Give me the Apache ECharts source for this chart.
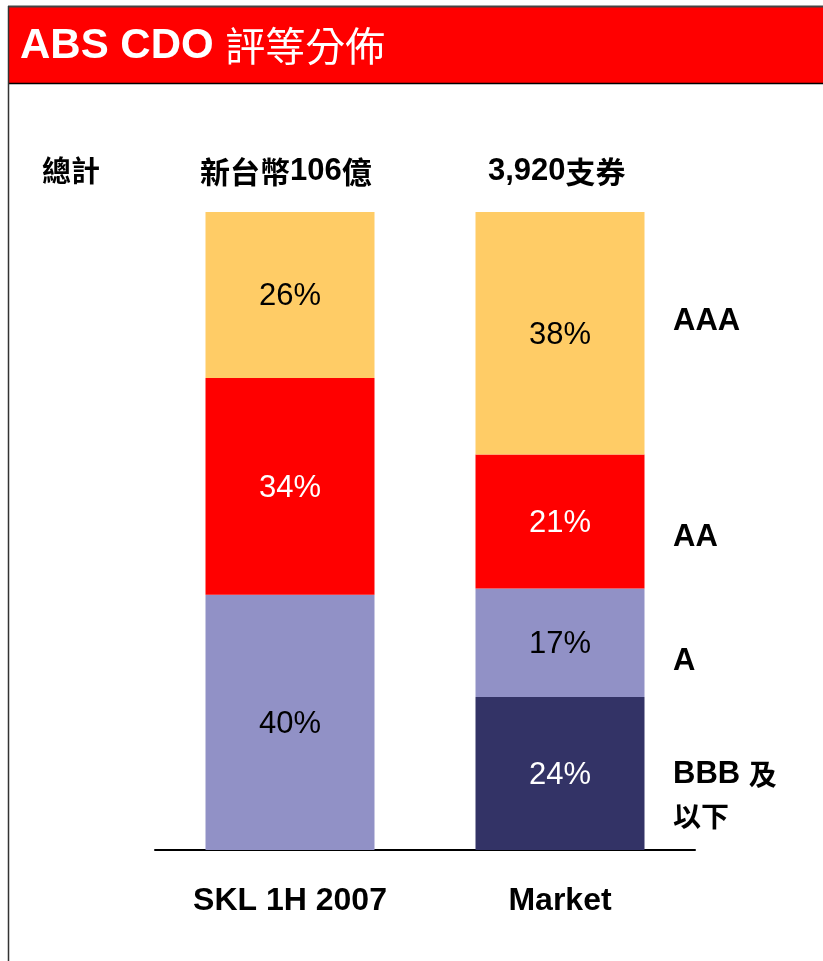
<!DOCTYPE html>
<html>
<head>
<meta charset="utf-8">
<style>
html,body{margin:0;padding:0;background:#fff;}
#chart{width:823px;height:961px;}
</style>
<script src="https://cdn.jsdelivr.net/npm/echarts@6/dist/echarts.min.js"></script>
</head>
<body>
<div id="chart"></div>
<script>
var categories = ['SKL 1H 2007', 'Market'];
var totals = ['新台幣106億', '3,920支券'];
var ratingNames = ['BBB 及\n以下', 'A', 'AA', 'AAA'];
var bbbValues = ['-', 24];
var aValues = [40, 17];
var aaValues = [34, 21];
var aaaValues = [26, 38];

var latin = 'Liberation Sans, Arial, Noto Sans CJK TC, sans-serif';
var chart = echarts.init(document.getElementById('chart'), null, {renderer: 'canvas'});

function mk(name, data, color, labelColor) {
  return {
    name: name, type: 'bar', stack: 'total', data: data,
    barWidth: 169,
    itemStyle: {color: color},
    label: {show: true, position: 'inside', formatter: '{c}%', color: labelColor,
            fontFamily: latin, fontSize: 31, offset: [0, 2]},
    emphasis: {disabled: true}
  };
}

var option = {
  animation: false,
  grid: {left: 155, right: 128, top: 212, bottom: 111, containLabel: false},
  xAxis: {
    type: 'category', data: categories,
    axisLine: {lineStyle: {color: '#000', width: 2}},
    axisTick: {show: false},
    axisLabel: {color: '#000', fontFamily: latin, fontWeight: 'bold', fontSize: 32, margin: 35}
  },
  yAxis: {type: 'value', min: 0, max: 100, show: false},
  series: [
    mk('BBB', bbbValues, '#333366', '#ffffff'),
    mk('A', aValues, '#9191C6', '#000000'),
    mk('AA', aaValues, '#FF0000', '#ffffff'),
    mk('AAA', aaaValues, '#FFCC66', '#000000')
  ],
  graphic: [
    {type: 'rect', shape: {x: 8, y: 6, width: 815, height: 78}, style: {fill: '#FF0000'}, silent: true},
    {type: 'line', shape: {x1: 8, y1: 6.5, x2: 823, y2: 6.5}, style: {stroke: '#444', lineWidth: 2}, silent: true},
    {type: 'line', shape: {x1: 8, y1: 83.5, x2: 823, y2: 83.5}, style: {stroke: '#000', lineWidth: 1.5}, silent: true},
    {type: 'line', shape: {x1: 8.5, y1: 6, x2: 8.5, y2: 961}, style: {stroke: '#333', lineWidth: 1.5}, silent: true},
    {type: 'text', left: 20, top: 25, silent: true,
     style: {text: '{a|ABS CDO }{c|評等分佈}', fill: '#fff',
       rich: {a: {fontFamily: latin, fontWeight: 'bold', fontSize: 42, fill: '#fff'},
              c: {fontFamily: 'Noto Sans CJK TC', fontSize: 40, fill: '#fff'}}}},
    {type: 'text', left: 42, top: 156, silent: true,
     style: {text: '總計', fill: '#000', font: 'bold 29px "Noto Sans CJK TC"'}},
    {type: 'text', left: 200, top: 156, silent: true,
     style: {text: '{c|新台幣}{a|106}{c|億}', rich: {
       c: {fontFamily: 'Noto Sans CJK TC', fontWeight: 'bold', fontSize: 30, fill: '#000'},
       a: {fontFamily: latin, fontWeight: 'bold', fontSize: 31, fill: '#000'}}}},
    {type: 'text', left: 488, top: 156, silent: true,
     style: {text: '{a|3,920}{c|支券}', rich: {
       c: {fontFamily: 'Noto Sans CJK TC', fontWeight: 'bold', fontSize: 30, fill: '#000'},
       a: {fontFamily: latin, fontWeight: 'bold', fontSize: 31, fill: '#000'}}}},
    {type: 'text', left: 673, top: 306, silent: true,
     style: {text: 'AAA', font: 'bold 31px "Liberation Sans"', fill: '#000'}},
    {type: 'text', left: 673, top: 522, silent: true,
     style: {text: 'AA', font: 'bold 31px "Liberation Sans"', fill: '#000'}},
    {type: 'text', left: 673, top: 646, silent: true,
     style: {text: 'A', font: 'bold 31px "Liberation Sans"', fill: '#000'}},
    {type: 'text', left: 673, top: 759, silent: true,
     style: {text: '{a|BBB }{c|及}\n{c|以下}', rich: {
       a: {fontFamily: latin, fontWeight: 'bold', fontSize: 31, fill: '#000', lineHeight: 42},
       c: {fontFamily: 'Noto Sans CJK TC', fontWeight: 'bold', fontSize: 28, fill: '#000', lineHeight: 42}}}}
  ]
};
chart.setOption(option);
</script>
</body>
</html>
